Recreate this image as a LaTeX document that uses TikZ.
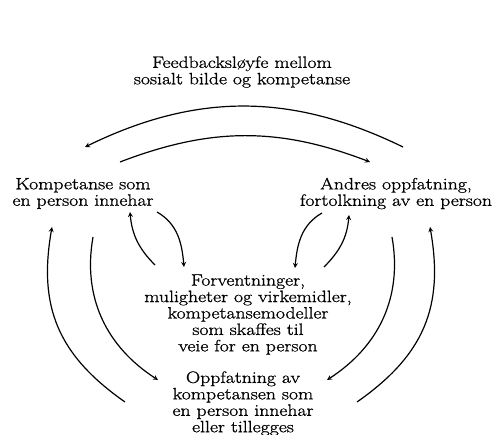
\documentclass[tikz,border=0pt]{standalone}
\usepackage{fontspec}
\setmainfont{Latin Modern Roman}[FakeStretch=1.2,FakeBold=1]
\usepackage{tikz}

\begin{document}
\begin{tikzpicture}[x=1bp,y=1bp,>=stealth,line width=1.2bp,
    txt/.style={align=center,font=\fontsize{16.5}{16.5}\selectfont}]
      \useasboundingbox (0,0) rectangle (496,435);
      \node[txt] (1) at (242,363) {Feedbacksløyfe mellom\\sosialt bilde og kompetanse};
      \node[txt] (2) at (83,241.5) {Kompetanse som\\en person innehar};
      \node[txt] (3) at (396,241.5) {Andres oppfatning,\\fortolkning av en person};
      \node[txt] (4) at (248,120.5) {Forventninger,\\muligheter og virkemidler,\\kompetansemodeller\\som skaffes til\\veie for en person};
      \node[txt] (5) at (243,31.5) {Oppfatning av\\kompetansen som\\en person innehar\\eller tillegges};

      \draw[->] ([shift={(7,46.5)}]3.center) to[bend right=26] ([shift={(2,46.5)}]2.center);
      \draw[->] ([shift={(37,31.5)}]2.center) to[bend left=21] ([shift={(-26,31.5)}]3.center);

      \draw[->] ([shift={(-93,49.5)}]4.center) to[out=135,in=-85] ([shift={(47,-18.5)}]2.center);
      \draw[->] ([shift={(74,-18.5)}]2.center) to[out=-30,in=95] ([shift={(-64,47.5)}]4.center);
      \draw[->] ([shift={(-74,-19.5)}]3.center) to[out=-150,in=85] ([shift={(47,46.5)}]4.center);
      \draw[->] ([shift={(76,47.5)}]4.center) to[out=45,in=-95] ([shift={(-47,-21.5)}]3.center);

      \draw[->] ([shift={(-118,1.5)}]5.center) to[out=145,in=-100,looseness=1.1] ([shift={(-31,-33.5)}]2.center);
      \draw[->] ([shift={(10,-43.5)}]2.center) to[out=-100,in=147] ([shift={(-85,23.5)}]5.center);
      \draw[->] ([shift={(114,1.5)}]5.center) to[out=35,in=-80,looseness=1.1] ([shift={(34,-33.5)}]3.center);
      \draw[->] ([shift={(-4,-43.5)}]3.center) to[out=-80,in=33] ([shift={(84,23.5)}]5.center);
    \end{tikzpicture}
\end{document}
